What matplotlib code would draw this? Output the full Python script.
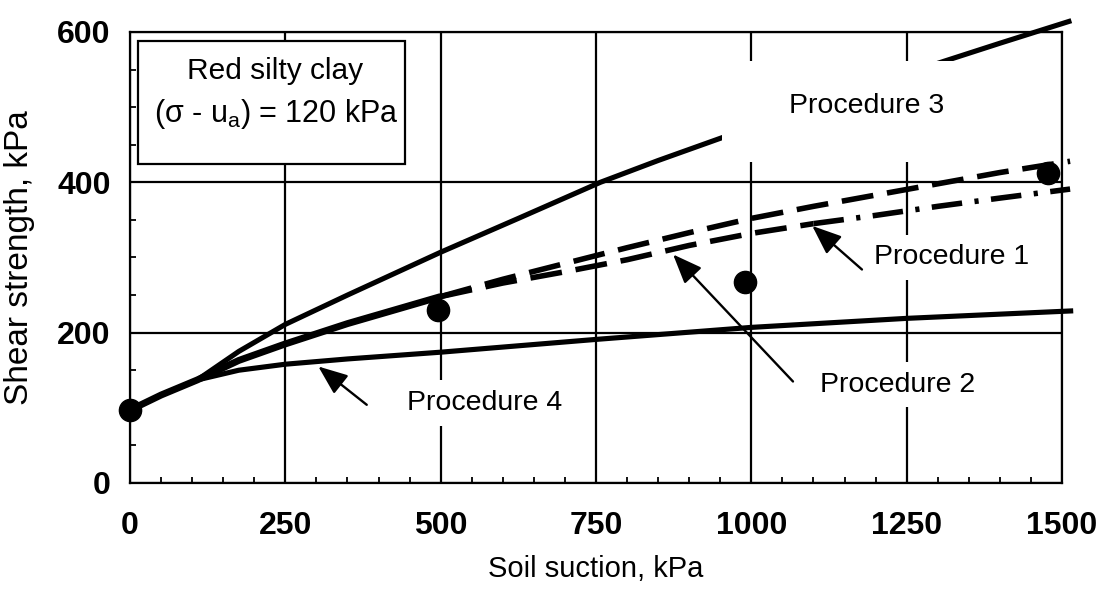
import numpy as np
import matplotlib
matplotlib.use('Agg')
import matplotlib.pyplot as plt
from matplotlib.ticker import MultipleLocator
from matplotlib.patches import Rectangle

plt.rcParams['font.family'] = ['Liberation Sans', 'DejaVu Sans']
plt.rcParams['mathtext.fontset'] = 'custom'
plt.rcParams['mathtext.rm'] = 'Liberation Sans'
plt.rcParams['lines.scale_dashes'] = False

# measured points
pts_x = [0, 495, 990, 1478]
pts_y = [97, 230, 267, 412]

# Procedure 3
p3_x = [0, 50, 108, 175, 250, 350, 500, 625, 757, 850, 955, 1100, 1200, 1310, 1400, 1515]
p3_y = [97, 117, 137, 175, 211, 250, 307, 352, 400, 429, 460, 502, 531, 561, 585, 615]

# Procedure 4
p4_x = [0, 50, 108, 175, 250, 350, 500, 750, 1000, 1250, 1518]
p4_y = [97, 117, 137, 150, 158, 165, 174, 191, 207, 219, 229]

# common part of procedures 1 and 2
p12_x = [0, 50, 108, 175, 250, 350, 500]
p12_y = [97, 117, 137, 163, 185, 212, 248]

# upper dashed branch
up_x = [500, 600, 700, 800, 900, 1000, 1100, 1200, 1300, 1400, 1513]
up_y = [248, 271, 292, 313, 333, 352, 368, 383, 398, 413, 428]

# lower branch (dashed, then dash-dot)
lo_x = [500, 600, 700, 800, 900, 1000, 1100, 1200, 1300, 1400, 1513]
lo_y = [248, 266, 281, 297, 316, 332, 345, 356, 368, 379, 391]

fig = plt.figure(figsize=(11.01, 5.94), dpi=100)
ax = fig.add_axes([0.1181, 0.1869, 0.8465, 0.7593])

ax.set_xlim(0, 1500)
ax.set_ylim(0, 600)
ax.set_xticks([0, 250, 500, 750, 1000, 1250, 1500])
ax.set_yticks([0, 200, 400, 600])
ax.xaxis.set_minor_locator(MultipleLocator(50))
ax.yaxis.set_minor_locator(MultipleLocator(50))
ax.tick_params(which='major', length=0, labelsize=23)
ax.tick_params(axis='x', which='major', pad=20)
ax.tick_params(axis='y', which='major', pad=14)
ax.tick_params(which='minor', direction='in', length=4, width=1.3, color='k')
for lab in ax.get_xticklabels() + ax.get_yticklabels():
    lab.set_weight('bold')
ax.grid(True, which='major', color='k', lw=1.6)
ax.set_axisbelow(True)
for sp in ax.spines.values():
    sp.set_linewidth(1.6)

lw = 3.7
ax.plot(p3_x, p3_y, color='k', lw=lw, clip_on=False, solid_capstyle='butt')
ax.plot(p4_x, p4_y, color='k', lw=lw, clip_on=False, solid_capstyle='butt')
ax.plot(p12_x, p12_y, color='k', lw=lw + 1.3, solid_capstyle='butt')
ax.plot(up_x, up_y, color='k', lw=lw + 0.3, clip_on=False, dashes=(23, 10), dash_capstyle='butt')
lo_x = np.array(lo_x)
lo_y = np.array(lo_y)
m1 = lo_x <= 1100
m2 = lo_x >= 1100
ax.plot(lo_x[m1], lo_y[m1], color='k', lw=lw + 0.3, dashes=(23, 10), dash_capstyle='butt')
ax.plot(lo_x[m2], lo_y[m2], color='k', lw=lw + 0.3, clip_on=False, dashes=(22, 9, 3, 9), dash_capstyle='butt')
ax.plot(pts_x, pts_y, 'o', color='k', ms=16, clip_on=False, zorder=5)

# white gap around "Procedure 3"
ax.add_patch(Rectangle((953, 427), 463, 134, facecolor='white', edgecolor='none', zorder=2.5))
ax.text(1185, 501, 'Procedure 3', fontsize=20.5, ha='center', va='center', zorder=4)

box = dict(boxstyle='square,pad=0.35', facecolor='white', edgecolor='none')
ax.text(1323, 300, 'Procedure 1', fontsize=20.5, ha='center', va='center', bbox=box, zorder=4)
ax.text(1236, 131, 'Procedure 2', fontsize=20.5, ha='center', va='center', bbox=box, zorder=4)
ax.text(571, 107, 'Procedure 4', fontsize=20.5, ha='center', va='center', bbox=box, zorder=4)

arrow = dict(arrowstyle='-|>,head_length=0.45,head_width=0.18', color='k', lw=1.7,
             mutation_scale=40, shrinkA=0, shrinkB=0)
ax.annotate('', xy=(1098, 342), xytext=(1178, 284), arrowprops=arrow, zorder=4)
ax.annotate('', xy=(874, 304), xytext=(1067, 135), arrowprops=arrow, zorder=4)
ax.annotate('', xy=(303, 155), xytext=(381, 104), arrowprops=arrow, zorder=4)

# legend-like box
ax.add_patch(Rectangle((13, 424), 430, 164, facecolor='white', edgecolor='k', lw=1.6, zorder=3))
ax.text(233, 548, 'Red silty clay', fontsize=21.5, ha='center', va='center', zorder=4)
ax.text(236, 491, '(σ - u$_\\mathregular{a}$) = 120 kPa', fontsize=22, ha='center', va='center', zorder=4)

ax.set_xlabel('Soil suction, kPa', fontsize=21)
ax.set_ylabel('Shear strength, kPa', fontsize=24)
ax.xaxis.set_label_coords(0.5, -0.16)
ax.yaxis.set_label_coords(-0.102, 0.5)

fig.savefig('out.png', dpi=100)
